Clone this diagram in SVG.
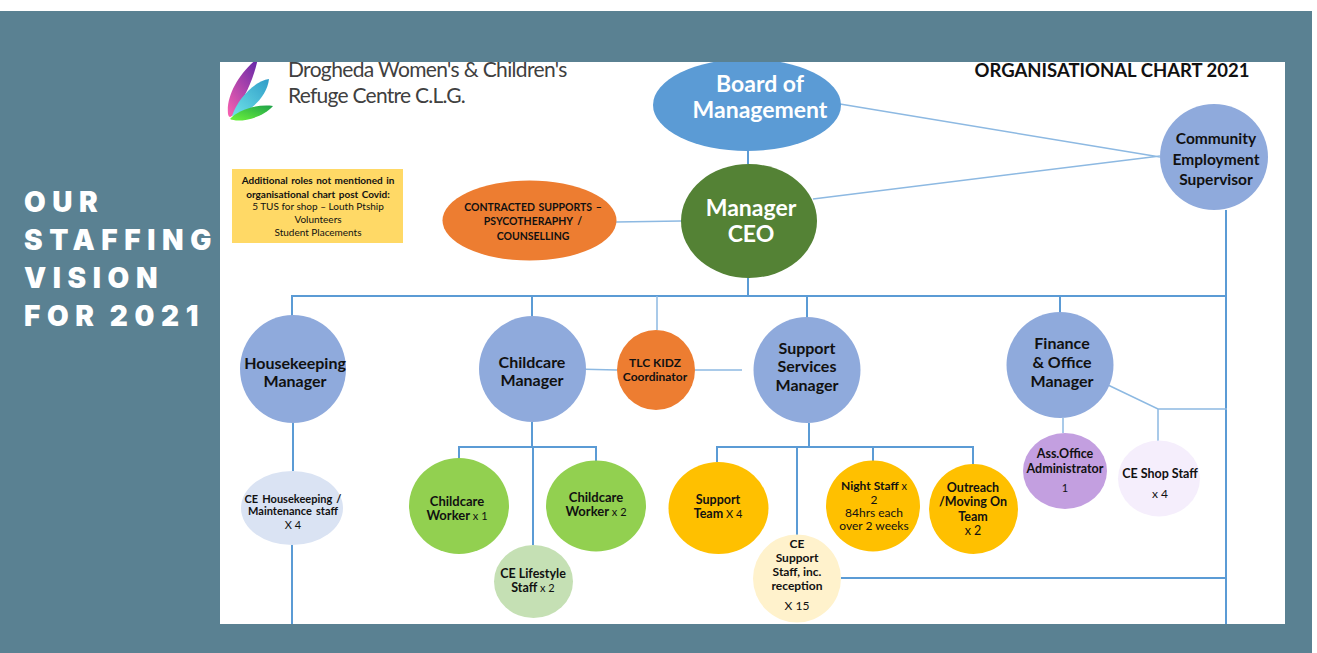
<svg xmlns="http://www.w3.org/2000/svg" width="1317" height="653" viewBox="0 0 1317 653">
<style>
.t{font-family:Lato,"Noto Sans",sans-serif;text-anchor:middle;fill:#111}
.b{font-weight:700}
.s{font-size:11px}
.c{fill:none;stroke:#5B9BD5;stroke-width:2}
.l{fill:none;stroke:#8DB9E2;stroke-width:1.5}
.m{fill:#8FAADC}
.h{font-family:Inter,"Liberation Sans",sans-serif;font-weight:900;font-size:28px;letter-spacing:6.6px;word-spacing:-3px;fill:#fff}
.g{fill:#FFC000}
.w{fill:#fff}
</style>
<defs>
<clipPath id="chart"><rect x="220" y="62" width="1065" height="562"/></clipPath>
<linearGradient id="lf1" x1="0.8" y1="0" x2="0.1" y2="1"><stop offset="0" stop-color="#6B2BA8"/><stop offset="1" stop-color="#F55FB0"/></linearGradient>
<linearGradient id="lf2" x1="1" y1="0" x2="0" y2="1"><stop offset="0" stop-color="#2F9CC8"/><stop offset="1" stop-color="#6FE3E8"/></linearGradient>
<linearGradient id="lf3" x1="1" y1="0" x2="0" y2="1"><stop offset="0" stop-color="#1FA24A"/><stop offset="1" stop-color="#6DF53A"/></linearGradient>
</defs>
<rect width="1317" height="653" fill="#fff"/>
<rect y="11" width="1312" height="642" fill="#5A8192"/>
<rect x="220" y="62" width="1065" height="562" fill="#fff"/>
<g id="title">
<text class="h" x="24" y="212">OUR</text>
<text class="h" x="24" y="250">STAFFING</text>
<text class="h" x="24" y="288">VISION</text>
<text class="h" x="24" y="326">FOR 2021</text>
</g>
<g id="logo" clip-path="url(#chart)">
<path d="M258 58C240 72 226 95 228 114C229 119 232 117 235 112C246 95 254 78 258 58Z" fill="url(#lf1)"/>
<path d="M269 79C255 81 238 98 232 116C247 115 267 98 269 79Z" fill="url(#lf2)"/>
<path d="M273 106C256 104 238 110 230 119C238 123 262 119 273 106Z" fill="url(#lf3)"/>
<text x="288" y="77" font-family="Lato,sans-serif" font-size="21" letter-spacing="-0.65" fill="#404040">Drogheda Women's &amp; Children's</text>
<text x="288" y="103" font-family="Lato,sans-serif" font-size="21" letter-spacing="-0.75" fill="#404040">Refuge Centre C.L.G.</text>
</g>
<text id="chart-title" class="t b" x="1112" y="77" font-size="18.5">ORGANISATIONAL CHART 2021</text>
<g id="connectors" clip-path="url(#chart)">
<path class="c" d="M292 316V296H1227M532 296V316M807 296V317M1060 296V312M748 277V296M748 150V164M1226 210V624"/>
<path class="c" d="M293 422V471M292 545V624M532 422V447M533 447V545M459 458V447H596V461M809 423V447M717 462V447H973V464M797 447V535M873 447V461M841 578H1226"/>
<path class="l" d="M657 296V330M840 104L1160 157M813 199L1160 156M616 222L681 221M574 369L617 370M695 370L742 370M1063 418V433M1108 385L1158 409H1227M1158 409V441" />
</g>
<g id="supports"><rect x="232" y="169" width="171" height="74" fill="#FFD966"/>
<text class="t b" font-size="10" x="318" y="184" word-spacing="1">Additional roles not mentioned in</text>
<text class="t b" font-size="10" x="318" y="198" word-spacing="1">organisational chart post Covid:</text>
<text class="t" font-size="10" x="318" y="210">5 TUS for shop – Louth Ptship</text>
<text class="t" font-size="10" x="318" y="223">Volunteers</text>
<text class="t" font-size="10" x="318" y="236">Student Placements</text></g>
<g id="board" clip-path="url(#chart)"><ellipse cx="747" cy="105" rx="94" ry="46" fill="#5B9BD5"/></g>
<g id="board-label"><text class="t b w" font-size="23" x="760" y="92">Board of</text><text class="t b w" font-size="23" x="760" y="118">Management</text></g>
<g id="ceo"><ellipse cx="749" cy="221" rx="68" ry="57" fill="#548235"/><text class="t b w" font-size="23" x="751" y="216">Manager</text><text class="t b w" font-size="23" x="751" y="242">CEO</text></g>
<g id="community"><ellipse cx="1214" cy="157" rx="54" ry="53" class="m"/><g class="b" font-size="15.5"><text class="t" x="1216" y="144">Community</text><text class="t" x="1216" y="165">Employment</text><text class="t" x="1216" y="185">Supervisor</text></g></g>
<g id="contracted"><ellipse cx="529.5" cy="220.5" rx="87" ry="40" fill="#ED7D31"/><g class="b" font-size="10.5"><text class="t" x="533" y="211" word-spacing="1">CONTRACTED SUPPORTS –</text><text class="t" x="533" y="225" word-spacing="2">PSYCOTHERAPHY  /</text><text class="t" x="533" y="240">COUNSELLING</text></g></g>
<g id="housekeeping"><ellipse cx="293" cy="369" rx="53" ry="54" class="m"/><g class="b" font-size="16"><text class="t" x="295" y="369">Housekeeping</text><text class="t" x="295" y="387">Manager</text></g></g>
<g id="childcare"><ellipse cx="532.5" cy="369" rx="53.5" ry="53" class="m"/><g class="b" font-size="16"><text class="t" x="532" y="368">Childcare</text><text class="t" x="532" y="386">Manager</text></g></g>
<g id="tlc"><ellipse cx="656" cy="370" rx="39" ry="40" fill="#ED7D31"/><g class="b" font-size="12"><text class="t" x="655" y="367">TLC KIDZ</text><text class="t" x="655" y="381">Coordinator</text></g></g>
<g id="support"><ellipse cx="807" cy="370" rx="53.5" ry="53" class="m"/><g class="b" font-size="16"><text class="t" x="807" y="354">Support</text><text class="t" x="807" y="372">Services</text><text class="t" x="807" y="391">Manager</text></g></g>
<g id="finance"><ellipse cx="1060" cy="365" rx="53.5" ry="53" class="m"/><g class="b" font-size="16"><text class="t" x="1062" y="349">Finance</text><text class="t" x="1062" y="368">&amp; Office</text><text class="t" x="1062" y="387">Manager</text></g></g>
<g id="ce-housekeeping"><ellipse cx="292" cy="508" rx="51" ry="37" fill="#DAE3F3"/><text class="t b" font-size="11" x="293" y="503" word-spacing="1.5">CE Housekeeping  /</text><text class="t b" font-size="11" x="293" y="515" word-spacing="1.5">Maintenance  staff</text><text class="t" font-size="11" x="293" y="529">X 4</text></g>
<g id="worker1"><ellipse cx="459" cy="506" rx="50" ry="48" fill="#92D050"/><text class="t b" font-size="13" x="457" y="506">Childcare</text><text class="t" font-size="13" x="457" y="520"><tspan class="b">Worker</tspan><tspan class="s"> x 1</tspan></text></g>
<g id="worker2"><ellipse cx="596" cy="506" rx="50" ry="45.5" fill="#92D050"/><text class="t b" font-size="13" x="596" y="502">Childcare</text><text class="t" font-size="13" x="596" y="516"><tspan class="b">Worker</tspan><tspan class="s"> x 2</tspan></text></g>
<g id="lifestyle"><ellipse cx="533.5" cy="581.5" rx="39.5" ry="36.5" fill="#C5E0B4"/><text class="t b" font-size="12.5" x="533" y="578">CE Lifestyle</text><text class="t" font-size="12.5" x="533" y="592"><tspan class="b">Staff</tspan><tspan class="s"> x 2</tspan></text></g>
<g id="support-team"><ellipse cx="718.5" cy="508" rx="50" ry="46" class="g"/><text class="t b" font-size="12.5" x="718" y="504">Support</text><text class="t" font-size="12.5" x="718" y="518"><tspan class="b">Team</tspan><tspan class="s"> X 4</tspan></text></g>
<g id="ce-support"><ellipse cx="797" cy="578.5" rx="44" ry="44" fill="#FFF2CC"/><g font-size="12"><text class="t b" x="797" y="548">CE</text><text class="t b" x="797" y="562">Support</text><text class="t b" x="797" y="576">Staff, inc.</text><text class="t b" x="797" y="590">reception</text><text class="t" x="797" y="610">X 15</text></g></g>
<g id="night"><ellipse cx="873" cy="506" rx="47" ry="45.5" class="g"/><g font-size="12"><text class="t" x="874" y="490"><tspan class="b">Night Staff</tspan><tspan class="s"> x</tspan></text><text class="t" x="874" y="504">2</text><text class="t" x="874" y="517">84hrs each</text><text class="t" x="874" y="530">over 2 weeks</text></g></g>
<g id="outreach"><ellipse cx="973.5" cy="509" rx="44.500" ry="45" class="g"/><g font-size="12.5"><text class="t b" x="973" y="492">Outreach</text><text class="t b" x="973" y="506">/Moving On</text><text class="t b" x="973" y="521">Team</text><text class="t" x="973" y="535">x 2</text></g></g>
<g id="office-admin"><ellipse cx="1065" cy="471" rx="42" ry="38" fill="#C39FE0"/><text class="t b" font-size="12.5" x="1065" y="458">Ass.Office</text><text class="t b" font-size="12.5" x="1065" y="473">Administrator</text><text class="t" font-size="11" x="1065" y="492">1</text></g>
<g id="shop"><ellipse cx="1159" cy="478.500" rx="41" ry="38" fill="#F5EEFC"/><text class="t b" font-size="12.5" x="1160" y="478">CE Shop Staff</text><text class="t" font-size="12" x="1160" y="498">x 4</text></g>
</svg>
